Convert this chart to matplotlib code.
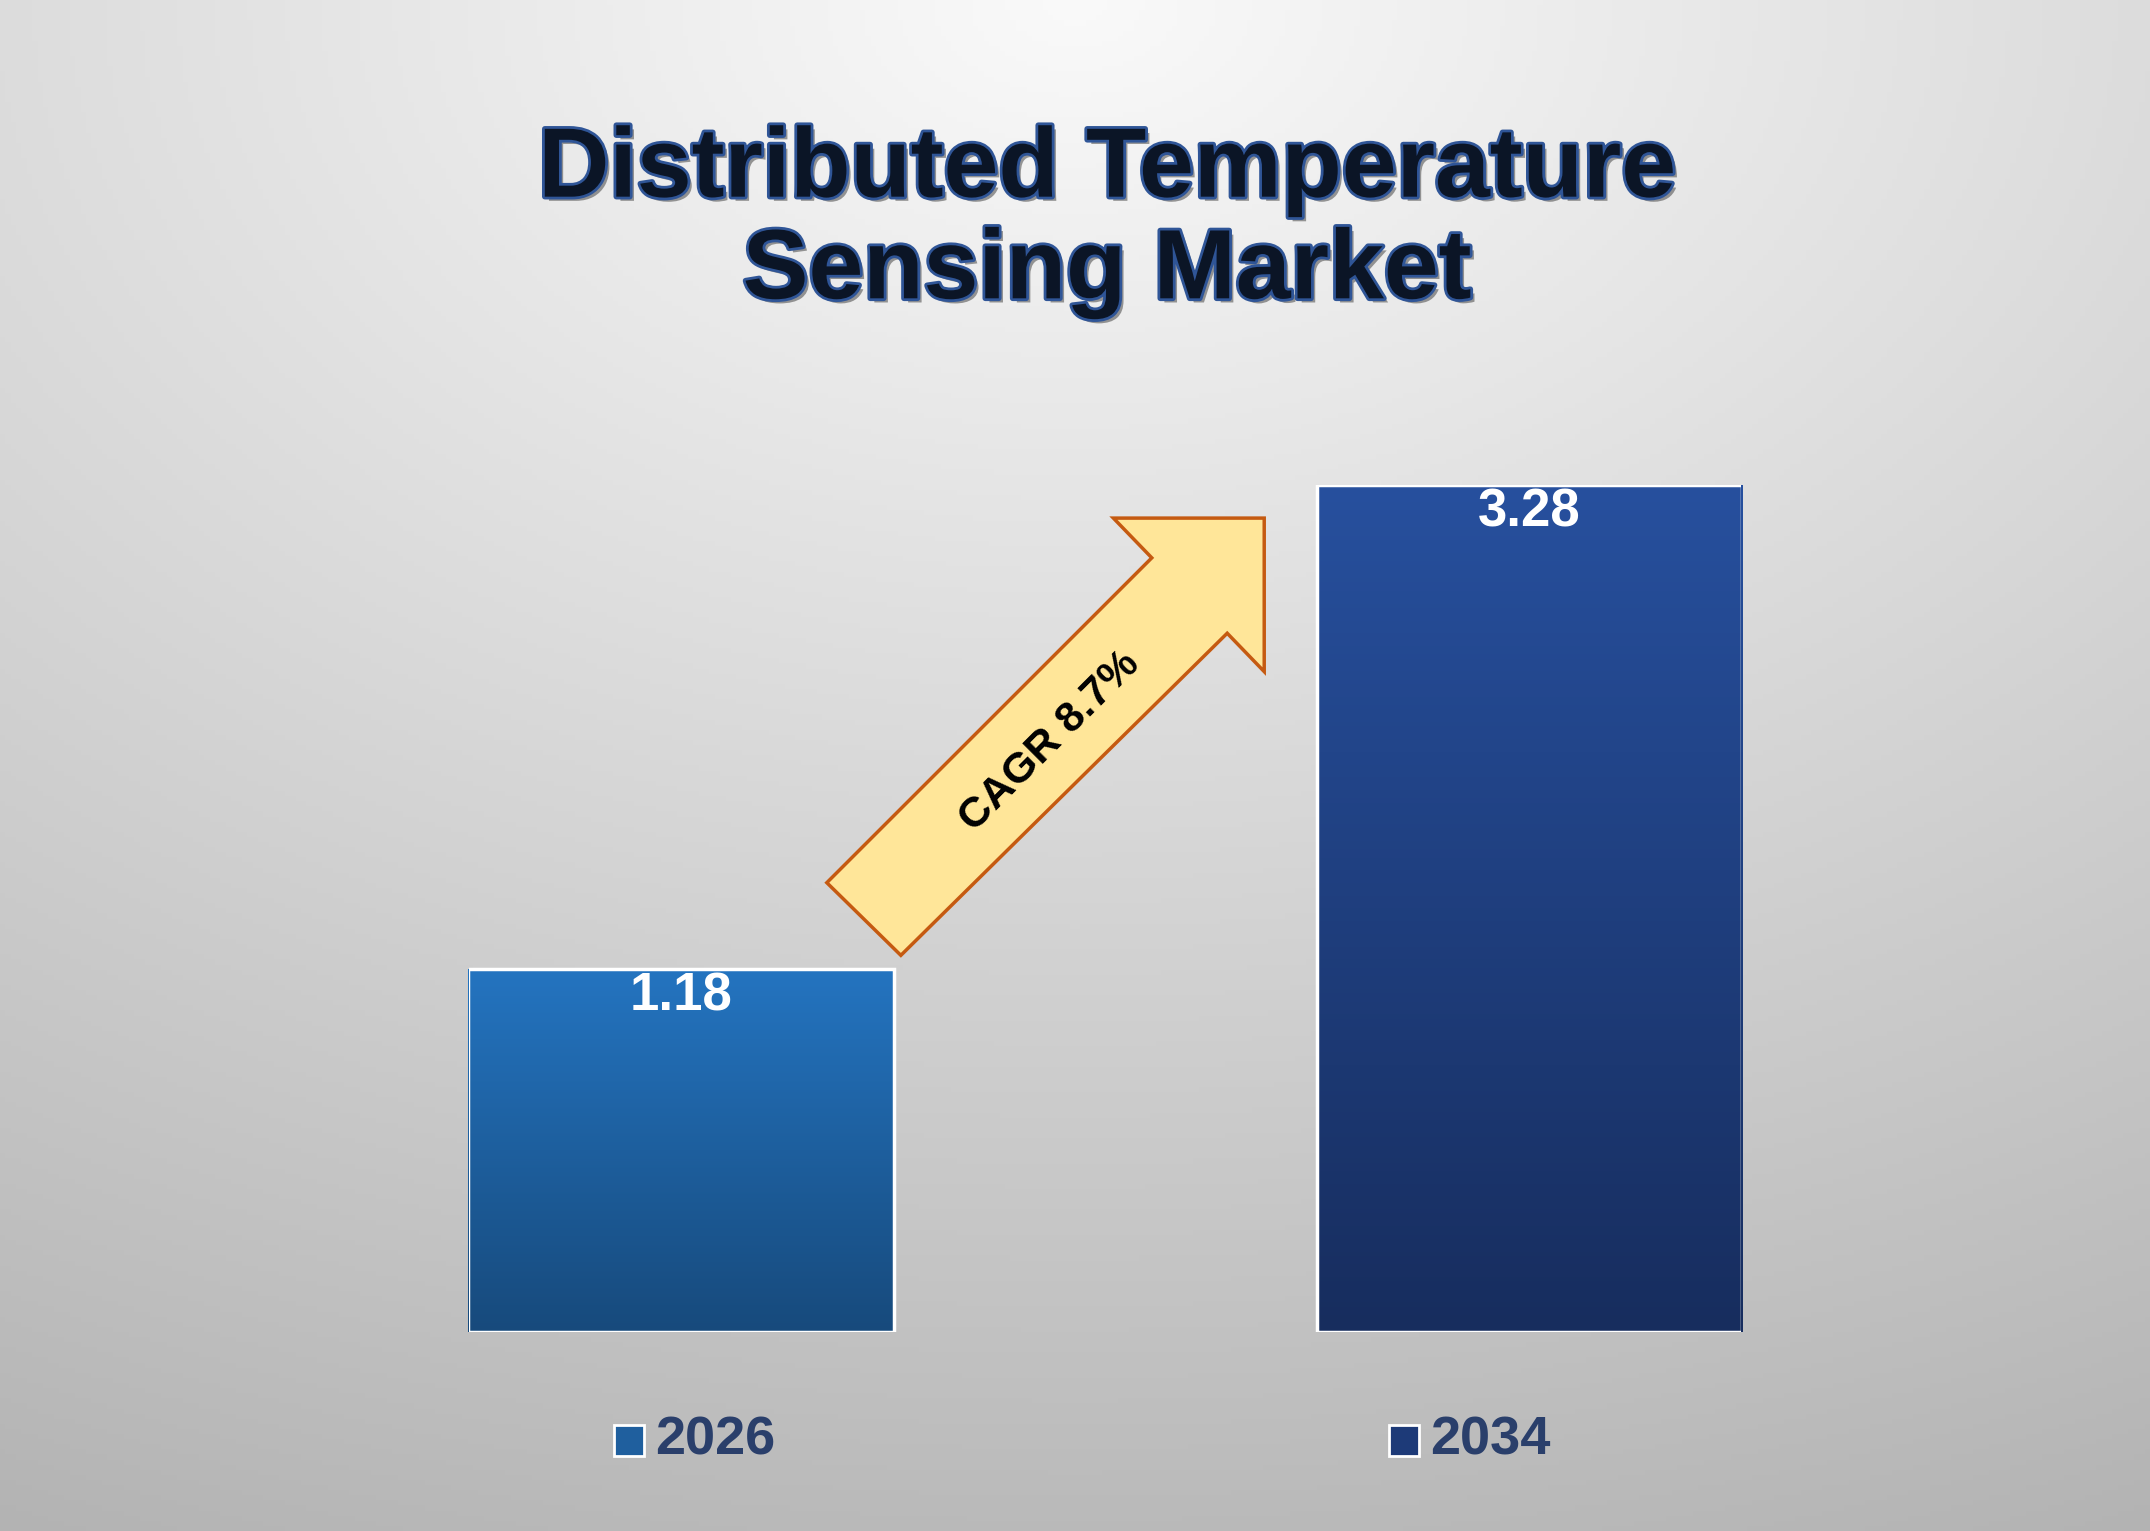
import matplotlib
matplotlib.use("Agg")
import matplotlib.pyplot as plt
import numpy as np
import matplotlib.patheffects as pe
from matplotlib.patches import Polygon, Rectangle

plt.rcParams['font.family'] = ['Liberation Sans', 'DejaVu Sans']

years = ['2026', '2034']
values = [1.18, 3.28]
cagr_label = 'CAGR 8.7%'
title = 'Distributed Temperature\nSensing Market'

bar_tops = ['#2474c0', '#27509e']
bar_bottoms = ['#174a7c', '#172d5e']
legend_colors = ['#1f5f9e', '#1d3a78']

fig = plt.figure(figsize=(21.5, 15.31), dpi=100)

# background gradient (light top centre, grey edges)
bg = fig.add_axes([0, 0, 1, 1])
yy, xx = np.mgrid[0:1:300j, 0:1:400j]
r = np.sqrt(((xx - 0.5) / 1.2) ** 2 + (yy * 0.9) ** 2)
shade = 0.98 - 0.28 * np.clip(r, 0, 1)
bg.imshow(np.dstack([shade, shade, shade]), extent=[0, 1, 0, 1], origin='upper', aspect='auto')
bg.set_xlim(0, 1)
bg.set_ylim(0, 1)
bg.axis('off')

# title
fig.text(0.515, 0.855, title, ha='center', va='center', fontsize=71, fontweight='bold',
         color='#0b1526', linespacing=1.15,
         path_effects=[pe.withSimplePatchShadow(offset=(3, -3), shadow_rgbFace='#555555', alpha=0.6),
                       pe.withStroke(linewidth=4, foreground='#2f5597')])

# bars
ax = fig.add_axes([0.218, 0.130, 0.592, 0.553])
base = -0.396
ax.set_xlim(-0.25, 1.25)
ax.set_ylim(base, values[1])
ax.axis('off')
width = 0.5016
for i, v in enumerate(values):
    c1 = np.array(matplotlib.colors.to_rgb(bar_tops[i]))
    c2 = np.array(matplotlib.colors.to_rgb(bar_bottoms[i]))
    t = np.linspace(0, 1, 200)[:, None]
    grad = (c1 * (1 - t) + c2 * t)[:, None, :]
    im = ax.imshow(grad, extent=[i - width / 2, i + width / 2, base, v], origin='upper',
                   aspect='auto', zorder=2)
    rect = Rectangle((i - width / 2, base), width, v - base, facecolor='none',
                     edgecolor='white', linewidth=2.5, zorder=3)
    ax.add_patch(rect)
    im.set_clip_path(rect)
    ax.text(i, v - 0.12, f'{v:.2f}', ha='center', va='center', color='white',
            fontsize=38, fontweight='bold', zorder=4)

# CAGR arrow in pixel-like overlay coordinates
ov = fig.add_axes([0, 0, 1, 1])
ov.set_xlim(0, 1568)
ov.set_ylim(1117, 0)
ov.axis('off')
arrow = Polygon([(603, 644), (840, 407), (812, 378), (922, 378), (922, 490),
                 (895, 462), (657, 697)], closed=True,
                facecolor='#ffe699', edgecolor='#c55a11', linewidth=2.5)
ov.add_patch(arrow)
ov.text(766, 541, cagr_label, rotation=45, ha='center', va='center',
        fontsize=31, fontweight='bold', color='black')

# legend
for i, yr in enumerate(years):
    x = [459, 1024][i]
    ov.add_patch(Rectangle((x - 11, 1040), 22, 22, facecolor=legend_colors[i],
                           edgecolor='white', linewidth=2))
    ov.text(x + 19, 1051, yr, ha='left', va='center', fontsize=39,
            fontweight='bold', color='#2a3f6b')

fig.savefig('out.png', dpi=100)
